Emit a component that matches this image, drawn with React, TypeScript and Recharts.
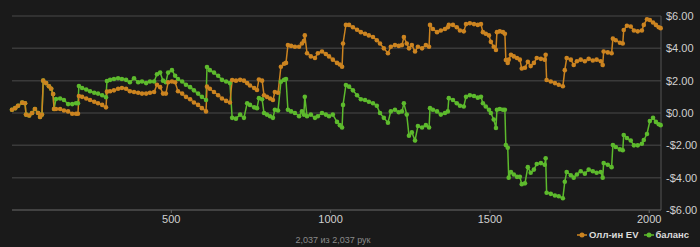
import { LineChart, Line, XAxis, YAxis, CartesianGrid } from 'recharts';

// hand number of each sampled point
const hands = [
  0, 10, 19, 32, 41, 44, 54, 63, 72, 82,
  88, 94, 98, 107, 116, 123, 129, 132, 138, 151,
  163, 176, 189, 201, 207, 210, 220, 233, 245, 258,
  270, 283, 295, 298, 308, 320, 333, 345, 358, 370,
  383, 396, 408, 421, 433, 446, 455, 465, 474, 483,
  490, 502, 512, 521, 534, 546, 559, 571, 584, 596,
  609, 612, 621, 634, 647, 659, 672, 684, 691, 703,
  716, 728, 738, 747, 760, 769, 775, 785, 791, 800,
  810, 819, 825, 835, 844, 854, 860, 866, 876, 888,
  901, 910, 916, 919, 926, 938, 951, 960, 973, 985,
  995, 1007, 1020, 1029, 1036, 1039, 1048, 1058, 1070, 1083,
  1095, 1108, 1120, 1133, 1145, 1155, 1167, 1180, 1189, 1202,
  1214, 1224, 1230, 1239, 1246, 1255, 1265, 1274, 1287, 1299,
  1309, 1312, 1321, 1334, 1346, 1359, 1368, 1371, 1384, 1396,
  1406, 1418, 1425, 1437, 1450, 1462, 1472, 1478, 1487, 1497,
  1503, 1512, 1519, 1522, 1531, 1541, 1547, 1550, 1556, 1559,
  1566, 1575, 1585, 1594, 1600, 1610, 1619, 1628, 1638, 1647,
  1660, 1672, 1675, 1678, 1691, 1704, 1716, 1729, 1735, 1741,
  1754, 1763, 1773, 1785, 1798, 1810, 1823, 1835, 1848, 1854,
  1857, 1870, 1882, 1886, 1895, 1908, 1917, 1920, 1930, 1942,
  1952, 1964, 1977, 1983, 1993, 2002, 2012, 2021, 2030, 2036,
];

// all-in EV, $
const evValues = [
  0.2, 0.3, 0.45, 0.64, 0.6, -0.1, -0.15, 0, 0.25, 0,
  -0.25, -0.1, 2.0, 1.85, 1.65, 1.5, 1.17, 0.25, 0.25, 0.25,
  0.15, 0.1, -0.05, -0.05, -0.05, 1.05, 1.0, 0.9, 0.8, 0.7,
  0.6, 0.5, 0.35, 1.32, 1.35, 1.4, 1.5, 1.55, 1.5, 1.35,
  1.3, 1.25, 1.2, 1.2, 1.25, 1.3, 1.75, 1.6, 1.2, 1.2,
  1.9, 1.95, 1.9, 1.35, 1.2, 1.0, 0.85, 0.65, 0.5, 0.3,
  0.1, 1.63, 1.5, 1.3, 1.1, 0.9, 0.75, 0.65, 2.04, 2.0,
  2.05, 2.0, 1.85, 1.7, 1.55, 1.42, 2.07, 2.0, 1.1, 1.0,
  0.9, 0.8, 1.3, 1.25, 2.86, 3.05, 3.1, 4.2, 4.15, 4.1,
  4.1, 4.3, 4.45, 4.8, 3.7, 3.5, 3.4, 3.7, 3.8, 3.65,
  3.5, 3.3, 3.1, 3.0, 2.86, 4.3, 5.45, 5.45, 5.3, 5.15,
  5.0, 4.9, 4.8, 4.7, 4.5, 4.3, 4.0, 3.7, 4.1, 4.2,
  4.15, 4.2, 4.7, 4.3, 4.0, 4.2, 3.8, 4.1, 4.0, 4.2,
  4.1, 5.45, 5.2, 5.0, 5.1, 5.2, 5.3, 5.45, 5.45, 5.3,
  5.1, 5.05, 5.5, 5.55, 5.5, 5.45, 5.5, 5.0, 4.9, 4.8,
  4.4, 4.1, 3.9, 5.0, 5.05, 5.0, 4.9, 3.28, 3.1, 3.3,
  3.6, 3.5, 3.4, 3.3, 2.75, 2.8, 3.17, 2.9, 3.1, 3.4,
  3.35, 3.3, 3.6, 2.04, 1.95, 1.85, 1.75, 1.65, 2.65, 3.4,
  3.3, 2.97, 3.2, 3.3, 3.2, 3.35, 3.25, 3.3, 3.2, 2.97,
  3.8, 3.75, 3.7, 4.6, 4.5, 4.35, 4.3, 5.13, 5.4, 5.35,
  5.1, 5.05, 5.1, 5.45, 5.8, 5.75, 5.6, 5.45, 5.3, 5.25,
];

// balance, $
const balanceValues = [
  0.2, 0.3, 0.45, 0.64, 0.6, -0.1, -0.15, 0, 0.25, 0,
  -0.25, -0.1, 2.0, 1.85, 1.65, 1.5, 1.17, 0.25, 0.87, 0.9,
  0.8, 0.55, 0.55, 0.6, 0.6, 1.67, 1.55, 1.45, 1.35, 1.25,
  1.2, 1.1, 0.97, 1.98, 2.05, 2.1, 2.15, 2.1, 2.05, 1.9,
  2.15, 1.9, 1.95, 1.85, 1.95, 1.95, 2.4, 2.5, 2.0, 1.9,
  2.5, 2.65, 2.3, 2.1, 1.95, 1.75, 1.6, 1.4, 1.2, 1.0,
  0.8, 2.85, 2.65, 2.5, 2.3, 2.05, 1.95, 1.85, -0.3, -0.35,
  -0.1, -0.3, 0.6, 0.5, 0.35, 0.3, 0.92, 0.85, 0, -0.1,
  -0.2, -0.3, 0.2, 0.15, 1.94, 2.05, 2.1, 0.2, 0.1, 0,
  -0.2, 0.1, -0.1, 1.0, -0.2, -0.1, -0.3, -0.2, 0, -0.1,
  -0.2, -0.1, -0.55, -0.75, -0.9, 0.5, 1.73, 1.63, 1.4, 1.1,
  0.85, 0.8, 0.7, 0.6, 0.45, 0, -0.3, -0.6, 0.1, 0.2,
  0.05, 0.1, 0.6, -0.1, -1.4, -1.2, -1.7, -0.8, -0.9, -0.75,
  -0.9, 0.3, 0.2, 0.1, -0.1, 0, 0.1, 0.92, 0.8, 0.6,
  0.45, 0.4, 1.0, 1.1, 1.05, 0.95, 1.0, 0.6, 0.4, 0.2,
  0, -0.4, -0.93, 0.2, 0.25, 0.2, 0.2, -1.98, -2.15, -4.0,
  -3.65, -3.8, -3.95, -3.95, -4.4, -4.35, -3.35, -3.7, -3.5, -3.15,
  -3.1, -3.2, -2.8, -4.93, -5.0, -5.1, -5.15, -5.27, -4.25, -3.65,
  -3.85, -4.0, -3.8, -3.6, -3.75, -3.5, -3.6, -3.7, -3.65, -4.0,
  -3.1, -3.2, -3.35, -1.98, -2.1, -2.25, -2.3, -1.36, -1.55, -1.7,
  -2.0, -2.0, -1.9, -1.67, -1.3, -0.5, -0.3, -0.55, -0.7, -0.75,
];

const xTicks = [500, 1000, 1500, 2000];
const yTicks = [-6, -4, -2, 0, 2, 4, 6];
const seriesNames = { ev: 'Олл-ин EV', balance: 'баланс' };
const footerText = '2,037 из 2,037 рук';

const ORANGE = '#cc8420';
const GREEN = '#5dba2d';
const FONT = '"Liberation Sans", Arial, sans-serif';

const data = hands.map((hand, i) => ({
  hand,
  ev: evValues[i],
  balance: balanceValues[i],
}));

const formatDollar = (v: number) => (v < 0 ? `-$${Math.abs(v).toFixed(2)}` : `$${v.toFixed(2)}`);

function LegendItem({ color, label }: { color: string; label: string }) {
  return (
    <span style={{ display: 'inline-flex', alignItems: 'center', marginLeft: 5 }}>
      <svg width={10} height={8} style={{ marginRight: 2 }}>
        <line x1={0} y1={4} x2={10} y2={4} stroke={color} strokeWidth={1.5} />
        <circle cx={5} cy={4} r={2.5} fill={color} />
      </svg>
      {label}
    </span>
  );
}

export default function App() {
  return (
    <div
      style={{
        position: 'fixed',
        top: 0,
        left: 0,
        width: 700,
        height: 247,
        background: '#1a1a1a',
        fontFamily: FONT,
      }}
    >
      <LineChart
        width={700}
        height={247}
        data={data}
        margin={{ top: 16, right: 0, left: 12, bottom: 17 }}
      >
        <CartesianGrid vertical={false} stroke="#3a3a3a" strokeWidth={1.5} />
        <XAxis
          dataKey="hand"
          type="number"
          domain={[0, 2037]}
          ticks={xTicks}
          height={20}
          tickSize={3}
          axisLine={{ stroke: '#555' }}
          tickLine={{ stroke: '#666' }}
          tick={{ fill: '#d0d0d0', fontSize: 11, fontFamily: FONT }}
        />
        <YAxis
          orientation="right"
          width={39}
          domain={[-6, 6]}
          ticks={yTicks}
          tickSize={3}
          tickLine={false}
          axisLine={{ stroke: '#555' }}
          tickFormatter={formatDollar}
          tick={{ fill: '#d0d0d0', fontSize: 11, fontFamily: FONT }}
        />
        <Line
          dataKey="balance"
          name={seriesNames.balance}
          stroke={GREEN}
          strokeWidth={1.5}
          dot={{ r: 2.3, fill: GREEN, stroke: 'none' }}
          isAnimationActive={false}
        />
        <Line
          dataKey="ev"
          name={seriesNames.ev}
          stroke={ORANGE}
          strokeWidth={1.5}
          dot={{ r: 2.3, fill: ORANGE, stroke: 'none' }}
          isAnimationActive={false}
        />
      </LineChart>
      <div
        style={{
          position: 'absolute',
          right: 11,
          top: 229,
          fontSize: 9.5,
          fontWeight: 'bold',
          color: '#dcdcdc',
          display: 'flex',
          whiteSpace: 'nowrap',
        }}
      >
        <LegendItem color={ORANGE} label={seriesNames.ev} />
        <LegendItem color={GREEN} label={seriesNames.balance} />
      </div>
      <div
        style={{
          position: 'absolute',
          left: 0,
          width: 666,
          top: 235,
          textAlign: 'center',
          fontSize: 9,
          color: '#8a8a8a',
        }}
      >
        {footerText}
      </div>
    </div>
  );
}
